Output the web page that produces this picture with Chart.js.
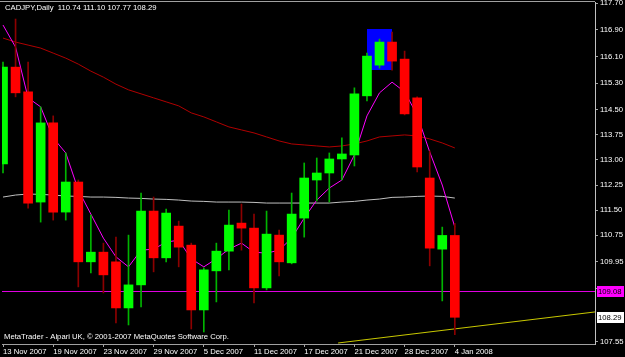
<!DOCTYPE html>
<html>
<head>
<meta charset="utf-8">
<title>CADJPY Daily</title>
<script src="https://cdn.jsdelivr.net/npm/chart.js@4/dist/chart.umd.min.js"></script>
<style>
  html, body { margin: 0; padding: 0; background: #000; }
  canvas { display: block; }
</style>
</head>
<body>
<canvas id="chart" width="625" height="357"></canvas>
<script>
// Symbol / header
const symbol = 'CADJPY,Daily';
const copyright = 'MetaTrader - Alpari UK, \u00A9 2001-2007 MetaQuotes Software Corp.';

// Daily bars
const dates = [
  '13 Nov 2007', '14 Nov 2007', '15 Nov 2007', '16 Nov 2007', '19 Nov 2007', '20 Nov 2007',
  '21 Nov 2007', '22 Nov 2007', '23 Nov 2007', '26 Nov 2007', '27 Nov 2007', '28 Nov 2007',
  '29 Nov 2007', '30 Nov 2007', '3 Dec 2007', '4 Dec 2007', '5 Dec 2007', '6 Dec 2007',
  '7 Dec 2007', '10 Dec 2007', '11 Dec 2007', '12 Dec 2007', '13 Dec 2007', '14 Dec 2007',
  '17 Dec 2007', '18 Dec 2007', '19 Dec 2007', '20 Dec 2007', '21 Dec 2007', '24 Dec 2007',
  '26 Dec 2007', '27 Dec 2007', '28 Dec 2007', '31 Dec 2007', '2 Jan 2008', '3 Jan 2008',
  '4 Jan 2008'
];
const open  = [112.88, 115.78, 115.04, 111.74, 114.11, 111.44, 112.34, 109.95, 110.24, 109.95, 108.57, 109.26, 111.47, 110.07, 111.02, 110.45, 108.51, 109.68, 110.27, 111.11, 110.96, 109.17, 110.75, 109.92, 111.26, 112.40, 112.61, 113.03, 113.15, 114.92, 115.84, 116.53, 116.02, 114.86, 112.46, 110.33, 110.74];
const high  = [115.93, 117.22, 115.93, 114.59, 114.32, 113.21, 112.40, 111.35, 110.51, 110.69, 110.75, 112.01, 111.89, 111.53, 111.17, 110.51, 109.77, 110.51, 111.50, 111.68, 111.38, 111.47, 110.90, 112.01, 112.91, 113.06, 113.21, 113.66, 115.16, 116.20, 116.62, 116.83, 116.26, 114.89, 113.27, 110.99, 111.10];
const low   = [112.61, 114.89, 111.56, 111.14, 111.20, 111.20, 109.20, 109.62, 109.02, 108.12, 108.06, 108.60, 109.65, 109.95, 109.80, 107.94, 107.85, 108.75, 109.71, 110.30, 108.72, 109.11, 109.53, 109.89, 110.69, 111.77, 111.74, 112.40, 112.82, 114.77, 115.75, 115.69, 114.35, 112.64, 109.83, 108.78, 107.77];
const close = [115.78, 115.01, 111.71, 114.11, 111.44, 112.34, 109.95, 110.24, 109.56, 108.57, 109.26, 111.47, 110.07, 111.41, 110.39, 108.51, 109.71, 110.27, 111.05, 110.96, 109.17, 110.78, 109.95, 111.38, 112.46, 112.61, 113.03, 113.18, 114.98, 116.11, 116.53, 115.96, 114.38, 112.79, 110.36, 110.74, 108.29];

// Moving averages (as drawn)
const maFast = [117.04, 116.38, 114.86, 114.59, 113.66, 113.21, 112.10, 111.38, 110.66, 110.10, 109.80, 110.30, 110.33, 110.54, 110.60, 110.04, 109.80, 110.04, 110.33, 110.51, 110.24, 110.21, 110.30, 110.66, 111.26, 111.80, 112.16, 112.40, 113.15, 114.32, 115.01, 115.33, 115.04, 114.35, 113.24, 112.25, 110.99];
const maMid  = [116.65, 116.53, 116.44, 116.35, 116.20, 116.05, 115.87, 115.66, 115.48, 115.27, 115.10, 114.98, 114.86, 114.74, 114.62, 114.41, 114.29, 114.14, 113.99, 113.90, 113.81, 113.69, 113.57, 113.48, 113.45, 113.42, 113.39, 113.42, 113.48, 113.57, 113.69, 113.72, 113.75, 113.72, 113.63, 113.51, 113.36];
const maSlow = [111.89, 111.95, 111.98, 111.97, 111.95, 111.92, 111.91, 111.89, 111.89, 111.88, 111.86, 111.85, 111.83, 111.82, 111.80, 111.77, 111.76, 111.74, 111.74, 111.74, 111.73, 111.71, 111.71, 111.71, 111.71, 111.71, 111.71, 111.74, 111.76, 111.80, 111.83, 111.88, 111.89, 111.91, 111.92, 111.91, 111.86];

// Objects on the chart
const hLine = 109.08;
const trendX = [26.7, 47.17];
const trendY = [107.52, 108.45];
const rectX = [29, 31];
const rectY = [115.69, 116.92];

// Price scale
const yTicks = [117.70, 116.90, 116.10, 115.30, 114.50, 113.75, 113.00, 112.25, 111.50, 110.75, 109.95, 109.15, 107.55];
const yMin = 107.49;
const yMax = 117.73;
const xMin = -0.08;
const xMax = 47.17;
const labelEvery = 4;

const FONT = '"Liberation Sans", Arial, sans-serif';
const FONT_SIZE = 7.7;
const bull = open.map((o, i) => close[i] >= o);

// Background, rectangle object, horizontal line, texts and price labels
const mtPlugin = {
    id: 'mt',
    beforeDraw(chart) {
        const ctx = chart.ctx;
        ctx.save();
        ctx.fillStyle = '#000000';
        ctx.fillRect(0, 0, chart.width, chart.height);
        ctx.restore();
    },
    beforeDatasetsDraw(chart) {
        const { ctx, chartArea: a, scales: { x, y } } = chart;
        ctx.save();
        ctx.beginPath();
        ctx.rect(a.left, a.top, a.right - a.left, a.bottom - a.top);
        ctx.clip();

        const rx0 = x.getPixelForValue(rectX[0]);
        const rx1 = x.getPixelForValue(rectX[1]);
        const ry0 = y.getPixelForValue(rectY[1]);
        const ry1 = y.getPixelForValue(rectY[0]);
        ctx.fillStyle = '#0000FF';
        ctx.fillRect(Math.round(rx0), Math.round(ry0), Math.round(rx1 - rx0), Math.round(ry1 - ry0));

        // horizontal line object, 1px filled row
        const hy = Math.round(y.getPixelForValue(hLine));
        ctx.fillStyle = '#E000E0';
        ctx.fillRect(0, hy, a.right, 1);
        ctx.restore();
    },
    afterDraw(chart) {
        const { ctx, chartArea: a, scales: { y } } = chart;
        const last = close.length - 1;
        ctx.save();

        // top border
        ctx.fillStyle = '#A0A0A0';
        ctx.fillRect(0, 1, a.right, 1);

        ctx.font = FONT_SIZE + 'px ' + FONT;
        ctx.textBaseline = 'middle';
        ctx.textAlign = 'left';
        ctx.fillStyle = '#FFFFFF';
        const ohlc = [open[last], high[last], low[last], close[last]].map(v => v.toFixed(2)).join(' ');
        ctx.fillText(symbol + '  ' + ohlc, 5, 8);
        ctx.fillText(copyright, 4, 337);

        // price labels on the right scale
        const boxes = [
            { value: hLine, fill: '#FF00FF' },
            { value: close[last], fill: '#FFFFFF' }
        ];
        boxes.forEach(b => {
            const py = Math.round(y.getPixelForValue(b.value));
            ctx.fillStyle = b.fill;
            ctx.fillRect(a.right + 2, py - 5, 27, 11);
            ctx.fillStyle = '#000000';
            ctx.fillText(b.value.toFixed(2), a.right + 3, py + 0.5);
        });
        ctx.restore();
    }
};

const ctx = document.getElementById('chart').getContext('2d');

const chart = new Chart(ctx, {
    type: 'bar',
    data: {
        datasets: [
            {
                // candle bodies
                type: 'bar',
                data: dates.map((d, i) => ({ x: i, y: [open[i], close[i]] })),
                backgroundColor: bull.map(b => b ? '#00FF00' : '#FF0000'),
                borderWidth: 0,
                barThickness: 9,
                grouped: false,
                order: 0
            },
            {
                // wicks
                type: 'bar',
                data: dates.map((d, i) => ({ x: i, y: [low[i], high[i]] })),
                backgroundColor: bull.map(b => b ? '#00B400' : '#8C0000'),
                borderWidth: 0,
                barThickness: 1,
                grouped: false,
                order: 1
            },
            {
                type: 'line',
                data: maFast.map((v, i) => ({ x: i, y: v })),
                borderColor: '#FF00FF',
                borderWidth: 1,
                pointRadius: 0,
                tension: 0,
                order: 2
            },
            {
                type: 'line',
                data: maMid.map((v, i) => ({ x: i, y: v })),
                borderColor: '#B00000',
                borderWidth: 1,
                pointRadius: 0,
                tension: 0,
                order: 3
            },
            {
                type: 'line',
                data: maSlow.map((v, i) => ({ x: i, y: v })),
                borderColor: '#C0C0C0',
                borderWidth: 1,
                pointRadius: 0,
                tension: 0,
                order: 4
            },
            {
                // trend line
                type: 'line',
                data: trendX.map((v, i) => ({ x: v, y: trendY[i] })),
                borderColor: '#C8C800',
                borderWidth: 1,
                pointRadius: 0,
                tension: 0,
                order: 5
            }
        ]
    },
    options: {
        responsive: false,
        animation: false,
        devicePixelRatio: 1,
        layout: { padding: { left: 2, top: 2, right: 0, bottom: 0 } },
        plugins: {
            legend: { display: false },
            tooltip: { enabled: false }
        },
        scales: {
            x: {
                type: 'linear',
                position: 'bottom',
                offset: false,
                min: xMin,
                max: xMax,
                afterBuildTicks: scale => {
                    scale.ticks = dates.map((d, i) => i).filter(i => i % labelEvery === 0).map(v => ({ value: v }));
                },
                afterFit: scale => {
                    scale.height = 13;
                    scale.paddingLeft = 0;
                    scale.paddingRight = 0;
                },
                grid: { offset: false, drawOnChartArea: false, drawTicks: true, tickLength: 3, color: '#A0A0A0' },
                border: { color: '#A0A0A0' },
                ticks: {
                    autoSkip: false,
                    maxRotation: 0,
                    align: 'start',
                    padding: 0,
                    color: '#FFFFFF',
                    font: { family: FONT, size: FONT_SIZE },
                    callback: v => dates[v]
                }
            },
            y: {
                type: 'linear',
                position: 'right',
                min: yMin,
                max: yMax,
                afterBuildTicks: scale => {
                    scale.ticks = yTicks.map(v => ({ value: v }));
                },
                afterFit: scale => {
                    scale.width = 30;
                    scale.paddingTop = 0;
                    scale.paddingBottom = 0;
                },
                grid: { drawOnChartArea: false, drawTicks: true, tickLength: 3, color: '#A0A0A0' },
                border: { color: '#C0C0C0' },
                ticks: {
                    autoSkip: false,
                    padding: 2,
                    color: '#FFFFFF',
                    font: { family: FONT, size: FONT_SIZE },
                    callback: v => v.toFixed(2)
                }
            }
        }
    },
    plugins: [mtPlugin]
});
</script>
</body>
</html>
